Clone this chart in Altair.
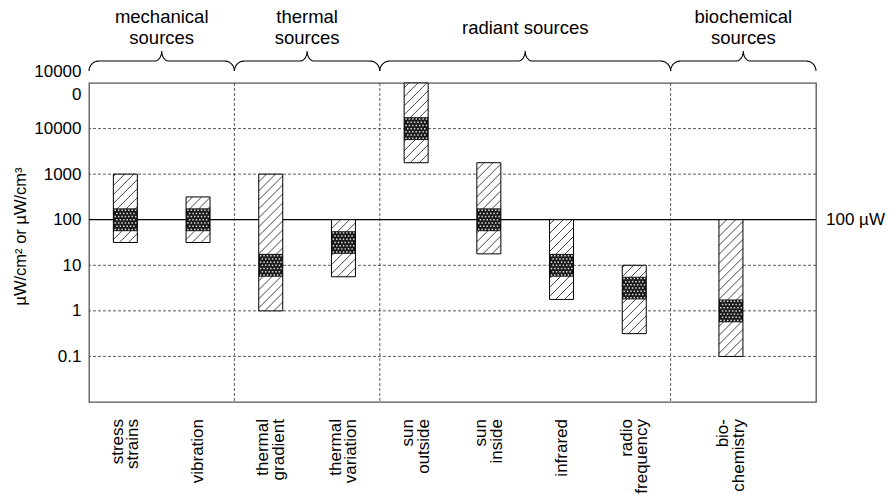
import math
import altair as alt
import pandas as pd

# ---------------- data ----------------
source_labels = ["stress\nstrains", "vibration", "thermal\ngradient", "thermal\nvariation",
                 "sun\noutside", "sun\ninside", "infrared", "radio\nfrequency", "bio-\nchemistry"]
source_pos = [0.5, 1.5, 2.5, 3.5, 4.5, 5.5, 6.5, 7.5, 8.83]
range_lo = [31.6, 31.6, 1.0, 5.6, 1780, 17.8, 1.78, 0.316, 0.1]
range_hi = [1000, 316, 1000, 100, 100000, 1780, 100, 10, 100]
typical_lo = [56, 56, 5.6, 17.8, 5600, 56, 5.6, 1.78, 0.56]
typical_hi = [178, 178, 17.8, 56, 17800, 178, 17.8, 5.6, 1.78]

group_labels = ["mechanical\nsources", "thermal\nsources", "radiant sources", "biochemical\nsources"]
group_start = [0, 2, 4, 8]
group_end = [2, 4, 8, 10]
separators = [2, 4, 8]

grid_values = [10000, 1000, 10, 1, 0.1]
reference_value = 100
reference_label = "100 µW"
y_tick_values = [100000, 10000, 1000, 100, 10, 1, 0.1]
y_title = "µW/cm² or µW/cm³"

# ---------------- layout constants ----------------
W, H = 727, 319
X_MAX = 10.0
Y_MIN, Y_MAX = 0.01, 100000.0
PX_X = W / X_MAX
PX_DEC = H / (math.log10(Y_MAX) - math.log10(Y_MIN))
BAR_W = 0.33
FONT = "Liberation Sans"
XLAB_LH = 15.5
GRP_LH = 21


def above_top(px):
    return 10 ** (math.log10(Y_MAX) + px / PX_DEC)


xs = alt.Scale(domain=[0, X_MAX], nice=False, zero=False)
ys = alt.Scale(type="log", domain=[Y_MIN, Y_MAX], nice=False)

y_axis = alt.Axis(values=y_tick_values,
                  labelExpr="datum.value >= 99999 ? ['10000','0'] : (datum.value < 1 ? '0.1' : format(datum.value, 'd'))",
                  labelOffset={"condition": {"test": "datum.value >= 99999", "value": -11.5}, "value": 0},
                  grid=False, ticks=False, domain=False, labelFont=FONT, labelFontSize=17,
                  labelColor="black", labelPadding=8, labelLineHeight=23, labelOverlap=False,
                  title=y_title, titleFont=FONT, titleFontSize=16.5, titleFontWeight="normal",
                  titleColor="black", titleX=-69, titleY=153, titleAlign="center",
                  titleBaseline="middle", titleAngle=270)

bars = pd.DataFrame({"label": source_labels, "x": source_pos, "lo": range_lo, "hi": range_hi,
                     "tlo": typical_lo, "thi": typical_hi})
bars["xl"] = bars["x"] - BAR_W / 2
bars["xr"] = bars["x"] + BAR_W / 2
bars["ybase"] = Y_MIN
bars["lx"] = [p - (lab.count("\n") * XLAB_LH / 2) / PX_X for p, lab in zip(source_pos, source_labels)]

# hatch segments derived from the bar ranges
SP = 9.0
hrows = []
for _, b in bars.iterrows():
    w = BAR_W * PX_X
    l0 = math.log10(b["lo"])
    h = (math.log10(b["hi"]) - l0) * PX_DEC
    k0 = math.floor(-w / SP) - 1
    k1 = math.ceil(h / SP) + 1
    for k in range(k0, k1 + 1):
        c = k * SP + 3
        u0 = max(0.0, -c)
        u1 = min(w, h - c)
        if u1 - u0 > 0.8:
            hrows.append({"x": b["xl"] + u0 / PX_X, "x2": b["xl"] + u1 / PX_X,
                          "y": 10 ** (l0 + (u0 + c) / PX_DEC),
                          "y2": 10 ** (l0 + (u1 + c) / PX_DEC)})
hatch = pd.DataFrame(hrows)

# dot texture inside the typical-range boxes
DX, DY = 3.4, 3.2
drows = []
for _, b in bars.iterrows():
    w = BAR_W * PX_X
    l0 = math.log10(b["tlo"])
    h = (math.log10(b["thi"]) - l0) * PX_DEC
    r = 0
    v = 1.8
    while v < h - 1.0:
        u = 1.9 + (DX / 2 if r % 2 else 0)
        while u < w - 1.2:
            drows.append({"x": b["xl"] + u / PX_X, "y": 10 ** (l0 + v / PX_DEC)})
            u += DX
        v += DY
        r += 1
dots = pd.DataFrame(drows)

# braces above groups
TIP, MAIN, CUSP = 12, 22, 32
R_END, R_MID = 10, 7
brows = []
N = 12
for gi, (g0, g1) in enumerate(zip(group_start, group_end)):
    x0 = g0 * PX_X
    x1 = g1 * PX_X
    mid = (x0 + x1) / 2
    pts = []
    for i in range(N + 1):
        t = math.pi / 2 * i / N
        pts.append((x0 + R_END - R_END * math.cos(t), TIP + (MAIN - TIP) * math.sin(t)))
    for i in range(N + 1):
        t = math.pi / 2 * i / N
        pts.append((mid - R_MID + R_MID * math.sin(t), CUSP - (CUSP - MAIN) * math.cos(t)))
    for i in range(N, -1, -1):
        t = math.pi / 2 * i / N
        pts.append((mid + R_MID - R_MID * math.sin(t), CUSP - (CUSP - MAIN) * math.cos(t)))
    for i in range(N, -1, -1):
        t = math.pi / 2 * i / N
        pts.append((x1 - R_END + R_END * math.cos(t), TIP + (MAIN - TIP) * math.sin(t)))
    for j, (px, py) in enumerate(pts):
        brows.append({"g": gi, "o": j, "x": px / PX_X, "y": above_top(py)})
braces = pd.DataFrame(brows)

groups = pd.DataFrame({"label": group_labels,
                       "x": [(a + b) / 2 for a, b in zip(group_start, group_end)]})
groups["y"] = [above_top(55.5 + lab.count("\n") * GRP_LH / 2) for lab in group_labels]

grid = pd.DataFrame({"v": grid_values})
seps = pd.DataFrame({"x": separators})
ref = pd.DataFrame({"v": [reference_value], "label": [reference_label], "x": [X_MAX]})

X = lambda f: alt.X(f, scale=xs, axis=None)
Y = lambda f: alt.Y(f, scale=ys, axis=y_axis)

# ---------------- layers ----------------
grid_layer = alt.Chart(grid).mark_rule(stroke="#333", strokeWidth=0.8, strokeDash=[3, 2]).encode(
    y=Y("v:Q"))

sep_layer = alt.Chart(seps).mark_rule(stroke="#333", strokeWidth=0.8, strokeDash=[3, 2]).encode(
    x=X("x:Q"))

ref_layer = alt.Chart(ref).mark_rule(stroke="black", strokeWidth=1.3).encode(y=Y("v:Q"))

ref_text = alt.Chart(ref).mark_text(align="left", baseline="middle", dx=10, font=FONT,
                                    fontSize=17, color="black").encode(
    x=X("x:Q"), y=Y("v:Q"), text="label:N")

bar_bg = alt.Chart(bars).mark_rect(fill="white").encode(
    x=X("xl:Q"), x2="xr:Q", y=Y("lo:Q"), y2="hi:Q")

hatch_layer = alt.Chart(hatch).mark_rule(stroke="#222", strokeWidth=0.85).encode(
    x=X("x:Q"), x2="x2:Q", y=Y("y:Q"), y2="y2:Q")

dense_layer = alt.Chart(bars).mark_rect(fill="#1a1a1a").encode(
    x=X("xl:Q"), x2="xr:Q", y=Y("tlo:Q"), y2="thi:Q")

dot_layer = alt.Chart(dots).mark_square(size=2.2, fill="white", opacity=0.85, strokeWidth=0).encode(
    x=X("x:Q"), y=Y("y:Q"))

bar_outline = alt.Chart(bars).mark_rect(fillOpacity=0, stroke="black", strokeWidth=1).encode(
    x=X("xl:Q"), x2="xr:Q", y=Y("lo:Q"), y2="hi:Q")

x_labels = alt.Chart(bars).mark_text(angle=270, align="right", baseline="middle", dx=-17,
                                     lineBreak="\n", lineHeight=XLAB_LH, font=FONT, fontSize=17,
                                     color="black").encode(
    x=X("lx:Q"), y=Y("ybase:Q"), text="label:N")

brace_layer = alt.Chart(braces).mark_line(stroke="black", strokeWidth=1.1, interpolate="linear").encode(
    x=X("x:Q"), y=Y("y:Q"), detail="g:N", order="o:Q")

group_text = alt.Chart(groups).mark_text(align="center", baseline="middle", lineBreak="\n",
                                         lineHeight=GRP_LH, font=FONT, fontSize=18.5,
                                         color="black").encode(
    x=X("x:Q"), y=Y("y:Q"), text="label:N")

chart = alt.layer(grid_layer, sep_layer, ref_layer, bar_bg, hatch_layer, dense_layer, dot_layer,
                  bar_outline, ref_text, x_labels, brace_layer, group_text).properties(
    width=W, height=H,
    autosize=alt.AutoSizeParams(type="none"),
    padding={"left": 89, "top": 83, "right": 73, "bottom": 93},
    background="white",
).configure_view(stroke="#555", strokeWidth=1.3)

chart.save("out.html", embed_options={"renderer": "svg", "actions": False})
